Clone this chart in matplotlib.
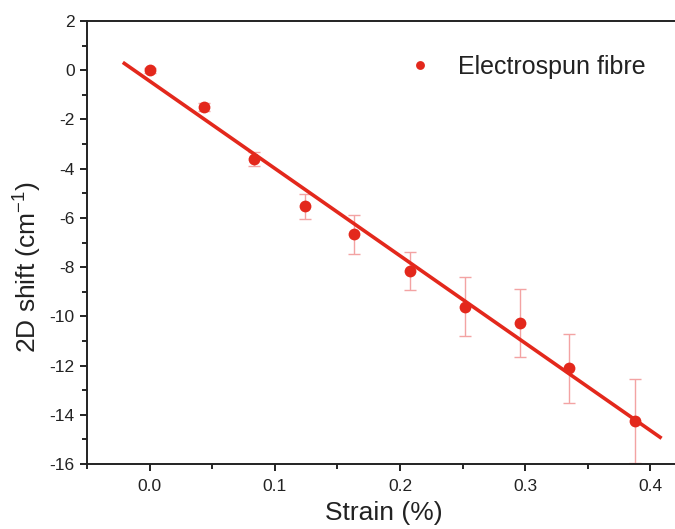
import matplotlib
matplotlib.use("Agg")
import matplotlib.pyplot as plt
import numpy as np

plt.rcParams['font.family'] = ['Liberation Sans', 'DejaVu Sans']
plt.rcParams['mathtext.default'] = 'regular'

# Data
strain = [0.0, 0.0437, 0.0834, 0.1241, 0.1635, 0.208, 0.2519, 0.2958, 0.3352, 0.3877]
shift = [0.0, -1.49, -3.62, -5.52, -6.67, -8.16, -9.61, -10.26, -12.11, -14.25]
shift_err = [0.1, 0.15, 0.28, 0.51, 0.79, 0.79, 1.2, 1.39, 1.4, 1.7]
fit_slope = -35.5
fit_intercept = -0.44
fit_range = [-0.0202, 0.4077]
legend_label = "Electrospun fibre"
xticks = [0.0, 0.1, 0.2, 0.3, 0.4]
yticks = [2, 0, -2, -4, -6, -8, -10, -12, -14, -16]

red = '#e3281c'
err_col = '#f3a3a3'

fig = plt.figure(figsize=(6.75, 5.29), dpi=100)
ax = fig.add_axes([87/675, 1-464/529, (680-87)/675, (464-21)/529])

ax.errorbar(strain, shift, yerr=shift_err, fmt='none', ecolor=err_col,
            elinewidth=1.0, capsize=4, capthick=1.0, zorder=2)
ax.plot(strain, shift, 'o', color=red, markersize=8.5, zorder=4,
        markeredgewidth=0, label=legend_label)
fx = np.array(fit_range)
ax.plot(fx, fit_slope * fx + fit_intercept, '-', color=red, lw=2.6, zorder=3)

ax.set_xlim(-0.05, 0.4236)
ax.set_ylim(-16, 2)
ax.set_xticks(xticks)
ax.set_xticklabels([f"{t:.1f}" for t in xticks])
ax.set_yticks(yticks)
ax.set_yticklabels([str(t) for t in yticks])
ax.set_xticks(np.arange(-0.05, 0.42, 0.05), minor=True)
ax.set_yticks(np.arange(-16, 2.1, 1), minor=True)

ax.tick_params(axis='both', which='major', direction='out', length=5, width=1.4,
               labelsize=12.5, colors='#222222')
ax.tick_params(axis='both', which='minor', direction='out', length=3.5, width=1.2)
ax.tick_params(axis='x', pad=6)
ax.tick_params(axis='y', pad=4)
for s in ['left', 'bottom', 'top']:
    ax.spines[s].set_linewidth(1.4)
    ax.spines[s].set_color('#222222')
ax.spines['right'].set_visible(False)

ax.set_xlabel("Strain (%)", fontsize=19, labelpad=5, color='#222222')
ax.set_ylabel("2D shift (cm$^{-1}$)", fontsize=19, color='#222222')
ax.yaxis.set_label_coords(-0.073, 0.445)

leg = ax.legend(loc='upper left', bbox_to_anchor=(0.498, 0.974), frameon=False,
                fontsize=18, markerscale=0.75, handlelength=1.2, handletextpad=0.92)
for t in leg.get_texts():
    t.set_color('#222222')

fig.savefig("out.png", dpi=100)
